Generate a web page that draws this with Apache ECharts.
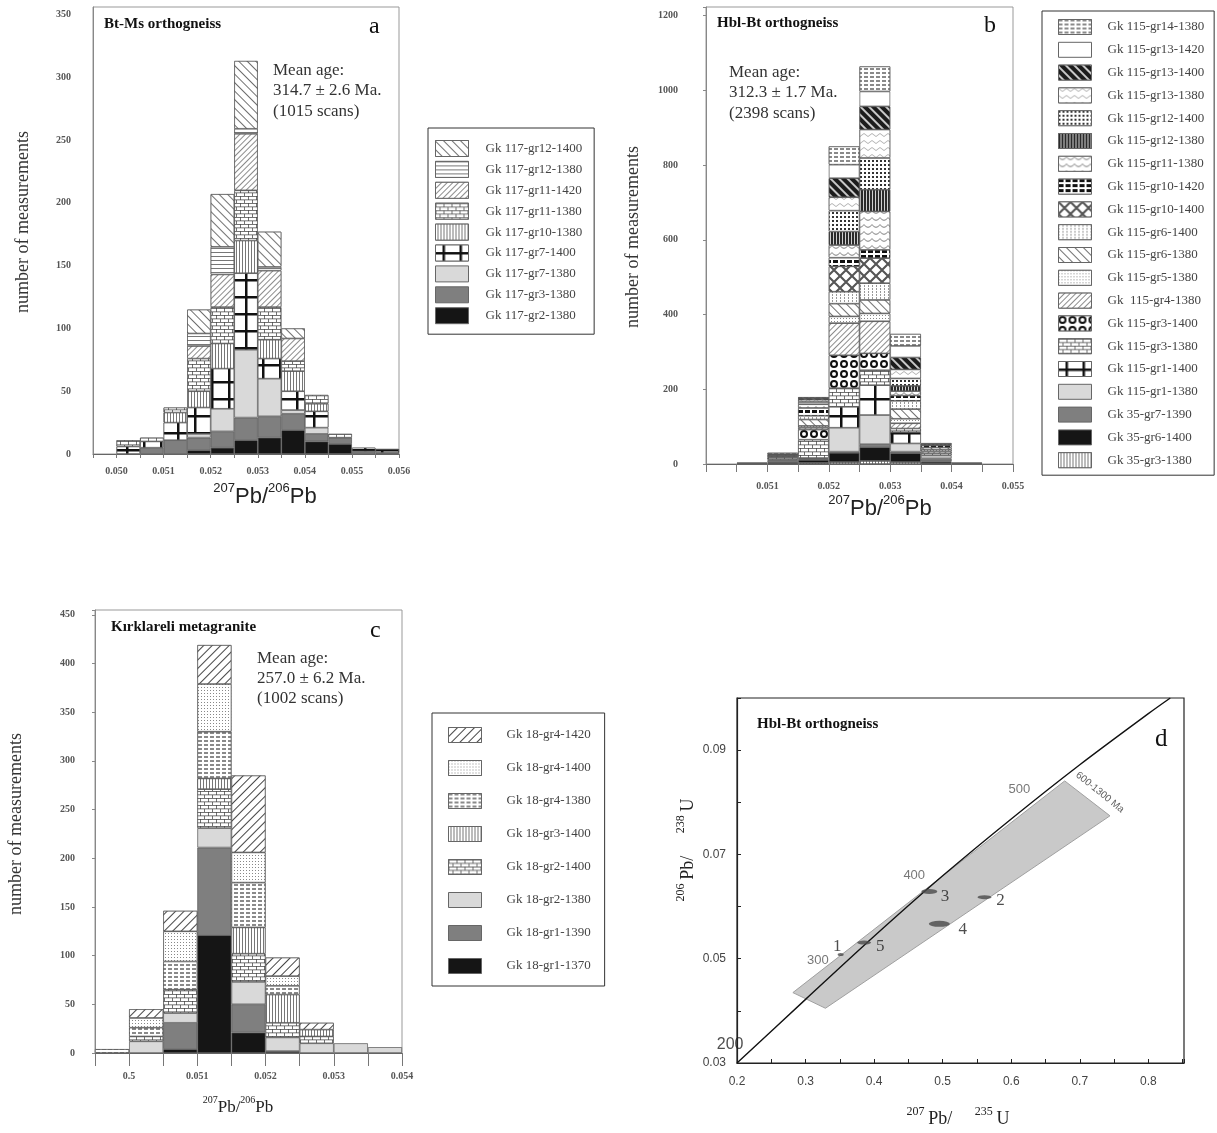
<!DOCTYPE html>
<html>
<head>
<meta charset="utf-8">
<title>U-Pb histograms and concordia</title>
<script src="https://cdn.jsdelivr.net/npm/echarts@6.0.0/dist/echarts.min.js"></script>
<style>
html,body{margin:0;padding:0;background:#fff;}
#chart{width:1217px;height:1133px;}
</style>
</head>
<body>
<div id="chart"></div>
<script>
// ===================== DATA =====================
// Panel a : Bt-Ms orthogneiss. Bins = lower edge of 0.0005-wide 207Pb/206Pb classes
const binsA = ['0.0495','0.0500','0.0505','0.0510','0.0515','0.0520','0.0525','0.0530','0.0535','0.0540','0.0545','0.0550','0.0555'];
const a_gr2_1380  = [0,0,0,0, 3, 5,11,13,19,10,8,0,0];
const a_gr3_1380  = [0,0,5,11,10,13,18,17,13,6,5,2,1];
const a_gr7_1380  = [0,0,0,0, 3,18,54,30, 3,5,0,0,0];
const a_gr7_1400  = [0,6,5,14,21,32,61,16,15,13,0,3,3];
const a_gr10_1380 = [0,0,0,8,13,20,26,15,16,6,0,0,0];
const a_gr11_1380 = [0,5,3,4,26,29,40,26,8,7,3,0,0];
const a_gr11_1420 = [0,0,0,0,10,26,45,29,18,0,0,0,0];
const a_gr12_1380 = [0,0,0,0,10,22,4,3,0,0,0,0,0];
const a_gr12_1400 = [0,0,0,0,19,42,54,28,8,0,0,0,0];
const namesA = ['Gk 117-gr2-1380','Gk 117-gr3-1380','Gk 117-gr7-1380','Gk 117-gr7-1400','Gk 117-gr10-1380','Gk 117-gr11-1380','Gk 117-gr11-1420','Gk 117-gr12-1380','Gk 117-gr12-1400'];
const valuesA = [a_gr2_1380,a_gr3_1380,a_gr7_1380,a_gr7_1400,a_gr10_1380,a_gr11_1380,a_gr11_1420,a_gr12_1380,a_gr12_1400];

// Panel b : Hbl-Bt orthogneiss
const binsB = ['0.0500','0.0505','0.0510','0.0515','0.0520','0.0525','0.0530','0.0535','0.0540','0.0545'];
const b35_gr3_1380   = [0,0,2,3,5,8,5,2,0,0];
const b35_gr6_1400   = [0,0,3,8,25,37,24,5,0,0];
const b35_gr7_1390   = [0,2,5,3,3,8,4,8,2,0];
const b115_gr1_1380  = [0,2,2,2,64,78,22,8,2,0];
const b115_gr1_1400  = [0,0,0,0,56,80,30,0,0,0];
const b115_gr3_1380  = [0,0,6,49,50,40,10,5,0,0];
const b115_gr3_1400  = [0,0,0,27,88,45,0,0,0,0];
const b115_gr4_1380  = [0,0,3,5,86,86,14,5,0,0];
const b115_gr5_1380  = [0,0,0,5,18,21,12,5,0,0];
const b115_gr6_1380  = [0,0,3,17,34,36,26,6,0,0];
const b115_gr6_1400  = [0,0,0,10,32,45,22,0,0,0];
const b115_gr10_1400 = [0,0,0,0,68,67,0,0,0,0];
const b115_gr10_1420 = [0,0,2,21,23,22,14,6,0,0];
const b115_gr11_1380 = [0,0,0,10,34,103,12,0,0,0];
const b115_gr12_1380 = [0,0,0,0,36,58,14,0,0,0];
const b115_gr12_1400 = [0,0,0,6,56,85,20,3,0,0];
const b115_gr13_1380 = [0,0,0,6,36,76,24,0,0,0];
const b115_gr13_1400 = [0,0,0,4,51,62,32,0,0,0];
const b115_gr13_1420 = [0,0,0,0,36,40,31,0,0,0];
const b115_gr14_1380 = [0,0,4,3,49,67,32,3,0,0];
const namesB = ['Gk 35-gr3-1380','Gk 35-gr6-1400','Gk 35-gr7-1390','Gk 115-gr1-1380','Gk 115-gr1-1400','Gk 115-gr3-1380','Gk 115-gr3-1400','Gk  115-gr4-1380','Gk 115-gr5-1380','Gk 115-gr6-1380','Gk 115-gr6-1400','Gk 115-gr10-1400','Gk 115-gr10-1420','Gk 115-gr11-1380','Gk 115-gr12-1380','Gk 115-gr12-1400','Gk 115-gr13-1380','Gk 115-gr13-1400','Gk 115-gr13-1420','Gk 115-gr14-1380'];
const valuesB = [b35_gr3_1380,b35_gr6_1400,b35_gr7_1390,b115_gr1_1380,b115_gr1_1400,b115_gr3_1380,b115_gr3_1400,b115_gr4_1380,b115_gr5_1380,b115_gr6_1380,b115_gr6_1400,b115_gr10_1400,b115_gr10_1420,b115_gr11_1380,b115_gr12_1380,b115_gr12_1400,b115_gr13_1380,b115_gr13_1400,b115_gr13_1420,b115_gr14_1380];

// Panel c : Kirklareli metagranite
const binsC = ['0.0495','0.0500','0.0505','0.0510','0.0515','0.0520','0.0525','0.0530','0.0535'];
const c_gr1_1370 = [0,0,4,121,21,2,0,0,0];
const c_gr1_1390 = [0,0,27,90,29,0,0,0,0];
const c_gr2_1380 = [0,12,10,20,23,14,10,10,6];
const c_gr2_1400 = [0,5,24,40,29,15,7,0,0];
const c_gr3_1400 = [0,0,0,11,27,29,7,0,0];
const c_gr4_1380 = [4,9,29,48,46,9,0,0,0];
const c_gr4_1400 = [0,10,31,49,31,10,0,0,0];
const c_gr4_1420 = [0,9,21,40,79,19,7,0,0];
const namesC = ['Gk 18-gr1-1370','Gk 18-gr1-1390','Gk 18-gr2-1380','Gk 18-gr2-1400','Gk 18-gr3-1400','Gk 18-gr4-1380','Gk 18-gr4-1400','Gk 18-gr4-1420'];
const valuesC = [c_gr1_1370,c_gr1_1390,c_gr2_1380,c_gr2_1400,c_gr3_1400,c_gr4_1380,c_gr4_1400,c_gr4_1420];
const tickValsC = [0.050,0.051,0.052,0.053,0.054];
const tickLabelsC = ['0.5','0.051','0.052','0.053','0.054'];

// Panel d : concordia diagram (207Pb/235U vs 206Pb/238U)
const concordiaX = [0.200,0.300,0.400,0.500,0.600,0.700,0.800,0.832];
const concordiaY = [0.0300,0.0422,0.0543,0.0659,0.0768,0.0872,0.0970,0.1000];
const bandX = [0.2815,0.3290,0.7440,0.6780];
const bandY = [0.0435,0.0405,0.0774,0.0841];
const spotNames = ['1','5','3','2','4'];
const spotX = [0.3512,0.3854,0.4805,0.5610,0.4951];
const spotY = [0.0508,0.0531,0.0629,0.0618,0.0567];
const spotLabelX = [0.3463,0.4088,0.5034,0.5844,0.5293];
const spotLabelY = [0.0524,0.0524,0.0619,0.0611,0.0556];
const ageNames = ['200','300','400','500'];
const ageX = [0.190,0.318,0.4585,0.612];
const ageY = [0.0335,0.0496,0.0659,0.0825];

// ===================== STYLES =====================
const SERIF = 'Liberation Serif';
const SANS = 'Liberation Sans';
const ellipseSize = [[6,3],[14,4],[16,5],[14,4],[21,6]];
const BACK = Math.PI / 4;    // "\\\\" hatch
const FWD = -Math.PI / 4;    // "////" hatch
const SYM = {
  brick: 'path://M0,0H16V1.5H0Z M0,7H16V8.5H0Z M0,0H1.5V7H0Z M8,7H9.5V14H8Z',
  cross: 'path://M0,7H17V9.5H0Z M7,0H9.5V17H7Z',
  xgrid: 'path://M0,0L1.5,0L12,10.5L12,12L10.5,12L0,1.5Z M10.5,0L12,0L12,1.5L1.5,12L0,12L0,10.5Z',
  wave: 'path://M0,0Q5,6,10,0L10,1.5Q5,7.5,0,1.5Z',
  zig: 'path://M0,0L5,4L10,0L10,1.5L5,5.5L0,1.5Z',
  ring: 'path://M5,0A5,5,0,1,1,5,10A5,5,0,1,1,5,0Z M5,2.5A2.5,2.5,0,1,0,5,7.5A2.5,2.5,0,1,0,5,2.5Z'
};
function sym(s, c, dx, dy, bg) { return {symbol:s, symbolSize:1, symbolKeepAspect:false, color:c, backgroundColor:bg||'#fff', dashArrayX:dx, dashArrayY:dy}; }
function lines(c, dy, rot, bg) { return {color:c, backgroundColor:bg||'#fff', dashArrayX:[1,0], dashArrayY:dy, rotation:rot}; }
const FILL = {
  black:  {color:'#151515'},
  dgray:  {color:'#7f7f7f'},
  lgray:  {color:'#d9d9d9'},
  white:  {color:'#ffffff'},
  bdiag:  {color:'#fff', decal: lines('#707070',[1,4.5],BACK)},
  fdiagF: {color:'#fff', decal: lines('#8c8c8c',[1,2.5],FWD)},
  fdiagB: {color:'#fff', decal: lines('#444444',[1,5],FWD)},
  hlines: {color:'#fff', decal: lines('#777777',[1,3],0)},
  vlines: {color:'#fff', decal: lines('#777777',[1,2],Math.PI/2)},
  blackv: {color:'#2a2a2a', decal: lines('#cfcfcf',[1,2],Math.PI/2,'#2a2a2a')},
  blackdiag: {color:'#1c1c1c', decal: lines('#c8c8c8',[2,4],BACK,'#1c1c1c')},
  brick:  {color:'#fff', decal: sym(SYM.brick,'#444',[8,0],[7,0])},
  cross:  {color:'#fff', decal: sym(SYM.cross,'#111',[17,0],[17,0])},
  xgrid:  {color:'#fff', decal: sym(SYM.xgrid,'#555',[12,0],[12,0])},
  waves:  {color:'#fff', decal: sym(SYM.wave,'#999',[8,0],[4,3])},
  zigzag: {color:'#fff', decal: sym(SYM.zig,'#b0b0b0',[8,0],[4,3])},
  rings:  {color:'#fff', decal: sym(SYM.ring,'#111',[8,2],[8,2])},
  dashbrick: {color:'#fff', decal: {color:'#8a8a8a', backgroundColor:'#fff', dashArrayX:[4,2], dashArrayY:[2,2]}},
  blackbrick:{color:'#fff', decal: {color:'#111', backgroundColor:'#fff', dashArrayX:[5,2], dashArrayY:[3,2]}},
  dots:   {color:'#fff', decal: {color:'#888', backgroundColor:'#fff', dashArrayX:[1,2], dashArrayY:[1,2]}},
  dotsD:  {color:'#fff', decal: {color:'#333', backgroundColor:'#fff', dashArrayX:[2,2], dashArrayY:[2,2]}},
  dotgrid:{color:'#fff', decal: {color:'#999', backgroundColor:'#fff', dashArrayX:[1,3], dashArrayY:[2,1]}}
};
const patsA = ['black','dgray','lgray','cross','vlines','brick','fdiagF','hlines','bdiag'];
const patsB = ['vlines','black','dgray','lgray','cross','brick','rings','fdiagF','dots','bdiag','dotgrid','xgrid','blackbrick','waves','blackv','dotsD','zigzag','blackdiag','white','dashbrick'];
const patsC = ['black','dgray','lgray','brick','vlines','dashbrick','dots','fdiagB'];

// ===================== BUILD =====================
function barSeries(names, values, pats, xi, yi, stack) {
  return names.map(function (n, k) {
    const f = FILL[pats[k]];
    const st = {color: f.color, borderColor:'#555', borderWidth:0.7};
    if (f.decal) st.decal = f.decal;
    return {
      type:'bar', name:n, stack:stack, xAxisIndex:xi, yAxisIndex:yi,
      barCategoryGap:'0%', barGap:'0%', silent:true,
      emphasis:{disabled:true},
      itemStyle:st,
      data: values[k].map(function (v) { return v > 0 ? v : '-'; })
    };
  });
}
function isMult(v, step) { const r = v / step; return Math.abs(r - Math.round(r)) < 1e-6; }

function legendCfg(names, left, top, ih, gap, pad, textPad) {
  return {
    data: names.slice().reverse(), orient:'vertical', left:left, top:top,
    itemWidth:33, itemHeight:ih, itemGap:gap, padding:pad, icon:'rect',
    borderColor:'#333', borderWidth:1, selectedMode:false, backgroundColor:'#fff',
    itemStyle:{borderColor:'#666', borderWidth:1},
    textStyle:{fontFamily:SERIF, fontSize:13, color:'#444', padding:[0,0,0,textPad]}
  };
}

function catAxis(grid, data) {
  return {type:'category', gridIndex:grid, data:data, show:false, position:'bottom', boundaryGap:true};
}
function valX(grid, min, max, fmt, tickLen, margin) {
  return {
    type:'value', gridIndex:grid, position:'bottom', min:min, max:max, interval:0.0005,
    axisLine:{show:true, onZero:false, lineStyle:{color:'#666', width:1}},
    axisTick:{show:true, length:tickLen, lineStyle:{color:'#777'}},
    splitLine:{show:false},
    axisLabel:{formatter:fmt, fontFamily:SERIF, fontWeight:'bold', fontSize:10, color:'#555', margin:margin, showMinLabel:true, showMaxLabel:true}
  };
}
function valY(grid, max, interval, tickLen, margin) {
  return {
    type:'value', gridIndex:grid, min:0, max:max, interval:interval,
    axisLine:{show:true, onZero:false, lineStyle:{color:'#888'}},
    axisTick:{show:tickLen > 0, length:tickLen, lineStyle:{color:'#888'}},
    splitLine:{show:false},
    axisLabel:{formatter:function (v) { return isMult(v, interval) ? String(Math.round(v)) : ''; },
      fontFamily:SERIF, fontWeight:'bold', fontSize:10, color:'#555', margin:margin}
  };
}

const supRich = function (main, sup, fam) {
  return {
    p:{fontFamily:fam, fontSize:main, fill:'#222', verticalAlign:'bottom', lineHeight:main + 4},
    s:{fontFamily:fam, fontSize:sup, fill:'#222', verticalAlign:'top', lineHeight:main + 4}
  };
};
function gtext(x, y, text, st, extra) {
  return Object.assign({type:'text', x:x, y:y, silent:true, z:100,
    style:Object.assign({text:text, fill:'#222', fontFamily:SERIF, fontSize:15,
      align:'left', verticalAlign:'top', textAlign:'left', textVerticalAlign:'top'}, st)}, extra || {});
}
const CENTER = {align:'center', verticalAlign:'middle', textAlign:'center', textVerticalAlign:'middle'};

const series = []
  .concat(barSeries(namesA, valuesA, patsA, 0, 0, 'a'))
  .concat(barSeries(namesB, valuesB, patsB, 2, 1, 'b'))
  .concat(barSeries(namesC, valuesC, patsC, 4, 2, 'c'));

series.push({
  type:'custom', name:'band', xAxisIndex:6, yAxisIndex:3, silent:true, z:1,
  data: bandX.map(function (x, i) { return [x, bandY[i]]; }),
  renderItem: function (params, api) {
    if (params.dataIndex !== 0) return null;
    const pts = bandX.map(function (x, i) { return api.coord([x, bandY[i]]); });
    return {type:'polygon', shape:{points:pts}, style:{fill:'#c9c9c9', stroke:'#a0a0a0', lineWidth:1}};
  }
});
series.push({
  type:'line', name:'concordia', xAxisIndex:6, yAxisIndex:3, silent:true, z:3,
  symbol:'none', clip:true, smooth:0.3,
  lineStyle:{color:'#111', width:1.4},
  data: concordiaX.map(function (x, i) { return [x, concordiaY[i]]; })
});
series.push({
  type:'scatter', name:'spots', xAxisIndex:6, yAxisIndex:3, silent:true, z:4,
  symbol:'circle', itemStyle:{color:'#4a4a4a'},
  data: spotX.map(function (x, i) { return {value:[x, spotY[i]], symbolSize:ellipseSize[i]}; })
});
series.push({
  type:'scatter', name:'spotLabels', xAxisIndex:6, yAxisIndex:3, silent:true, z:5, clip:false,
  symbolSize:0,
  label:{show:true, position:'inside', formatter:'{b}', fontFamily:SERIF, fontSize:17, color:'#222'},
  data: spotNames.map(function (n, i) { return {name:n, value:[spotLabelX[i], spotLabelY[i]]}; })
});
series.push({
  type:'scatter', name:'ageLabels', xAxisIndex:6, yAxisIndex:3, silent:true, z:5, clip:false,
  symbolSize:0,
  label:{show:true, position:'inside', formatter:'{b}', fontFamily:SANS, fontSize:13, color:'#555'},
  data: ageNames.map(function (n, i) {
    const d = {name:n, value:[ageX[i], ageY[i]]};
    if (n === '200') d.label = {fontSize:16, color:'#222'};
    return d;
  })
});
series.push({
  type:'scatter', name:'rangeLabel', xAxisIndex:6, yAxisIndex:3, silent:true, z:5, clip:false,
  symbolSize:0,
  label:{show:true, position:'inside', formatter:'{b}', fontFamily:SANS, fontSize:10, color:'#333', rotate:-39},
  data:[{name:'600-1300 Ma', value:[0.7293, 0.0819]}]
});

const option = {
  animation:false,
  backgroundColor:'#fff',
  textStyle:{fontFamily:SERIF},
  grid:[
    {left:93, top:7, width:306, height:447, show:true, borderColor:'#999', borderWidth:1, backgroundColor:'transparent'},
    {left:706, top:7, width:307, height:457, show:true, borderColor:'#999', borderWidth:1, backgroundColor:'transparent'},
    {left:95, top:610, width:307, height:443, show:true, borderColor:'#999', borderWidth:1, backgroundColor:'transparent'},
    {left:737, top:698, width:447, height:365, show:true, borderColor:'#222', borderWidth:1.2, backgroundColor:'transparent'}
  ],
  xAxis:[
    catAxis(0, binsA),
    valX(0, 0.0495, 0.056, function (v) { return isMult(v, 0.001) ? v.toFixed(3) : ''; }, 4, 12),
    catAxis(1, binsB),
    valX(1, 0.050, 0.055, function (v) { return (isMult(v, 0.001) && v > 0.0505) ? v.toFixed(3) : ''; }, 8, 17),
    catAxis(2, binsC),
    valX(2, 0.0495, 0.054, function (v) {
      for (let i = 0; i < tickValsC.length; i++) { if (Math.abs(tickValsC[i] - v) < 1e-7) return tickLabelsC[i]; }
      return '';
    }, 13, 18),
    {
      type:'value', gridIndex:3, position:'bottom', min:0.2, max:0.852, interval:0.05,
      axisLine:{show:true, onZero:false, lineStyle:{color:'#222', width:1.2}},
      axisTick:{show:true, inside:true, length:4, lineStyle:{color:'#222'}},
      splitLine:{show:false},
      axisLabel:{formatter:function (v) { return isMult(v, 0.1) ? v.toFixed(1) : ''; }, fontFamily:SANS, fontSize:12, color:'#444', margin:13}
    }
  ],
  yAxis:[
    valY(0, 356, 50, 0, 22),
    valY(1, 1223, 200, 3, 28),
    valY(2, 455, 50, 3, 20),
    {
      type:'value', gridIndex:3, min:0.03, max:0.10, interval:0.01,
      axisLine:{show:true, onZero:false, lineStyle:{color:'#222', width:1.2}},
      axisTick:{show:true, inside:true, length:4, lineStyle:{color:'#222'}},
      splitLine:{show:false},
      axisLabel:{formatter:function (v) { const r = Math.round(v * 100); return (r % 2 === 1) ? v.toFixed(2) : ''; }, fontFamily:SANS, fontSize:12, color:'#444', margin:11}
    }
  ],
  legend:[
    legendCfg(namesA, 428, 128, 16, 3.9, [12,12,10,7], 12),
    legendCfg(namesB, 1042, 11, 15, 6.8, [8,10,7,16], 11),
    legendCfg(namesC, 432, 713, 15, 17, [14,14,12,16], 20)
  ],
  graphic:[
    // panel a
    gtext(104, 17, 'Bt-Ms orthogneiss', {fontWeight:'bold', fontSize:15, fill:'#111'}),
    gtext(369, 15, 'a', {fontSize:24, fill:'#111'}),
    gtext(273, 60, 'Mean age:\n314.7 \u00b1 2.6 Ma.\n(1015 scans)', {fontSize:17, lineHeight:20.5, fill:'#333'}),
    gtext(23, 222, 'number of measurements', Object.assign({fontSize:18, fill:'#333'}, CENTER), {rotation:Math.PI/2}),
    gtext(265, 495, '{s|207}{p|Pb/}{s|206}{p|Pb}', Object.assign({rich:supRich(22, 13, SANS)}, CENTER)),
    // panel b
    gtext(717, 16, 'Hbl-Bt orthogneiss', {fontWeight:'bold', fontSize:15, fill:'#111'}),
    gtext(984, 14, 'b', {fontSize:24, fill:'#111'}),
    gtext(729, 62, 'Mean age:\n312.3 \u00b1 1.7 Ma.\n(2398 scans)', {fontSize:17, lineHeight:20.5, fill:'#333'}),
    gtext(633, 237, 'number of measurements', Object.assign({fontSize:18, fill:'#333'}, CENTER), {rotation:Math.PI/2}),
    gtext(880, 507, '{s|207}{p|Pb/}{s|206}{p|Pb}', Object.assign({rich:supRich(22, 13, SANS)}, CENTER)),
    // panel c
    gtext(111, 620, 'K\u0131rklareli metagranite', {fontWeight:'bold', fontSize:15, fill:'#111'}),
    gtext(370, 619, 'c', {fontSize:24, fill:'#111'}),
    gtext(257, 649, 'Mean age:\n257.0 \u00b1 6.2 Ma.\n(1002 scans)', {fontSize:17, lineHeight:20, fill:'#333'}),
    gtext(16, 824, 'number of measurements', Object.assign({fontSize:18, fill:'#333'}, CENTER), {rotation:Math.PI/2}),
    gtext(238, 1106, '{s|207}{p|Pb/}{s|206}{p|Pb}', Object.assign({rich:supRich(17, 10, SERIF)}, CENTER)),
    // panel d
    gtext(757, 717, 'Hbl-Bt orthogneiss', {fontWeight:'bold', fontSize:15, fill:'#111'}),
    gtext(1155, 727, 'd', {fontSize:25, fill:'#111'}),
    gtext(958, 1117, '{s|207} {p|Pb/}      {s|235} {p|U}', Object.assign({rich:supRich(18, 12, SERIF)}, CENTER)),
    gtext(686, 850, '{s|206} {p|Pb/}      {s|238} {p|U}', Object.assign({rich:supRich(18, 12, SERIF)}, CENTER), {rotation:Math.PI/2})
  ],
  series:series
};

const chart = echarts.init(document.getElementById('chart'), null, {renderer:'canvas'});
chart.setOption(option);
</script>
</body>
</html>
